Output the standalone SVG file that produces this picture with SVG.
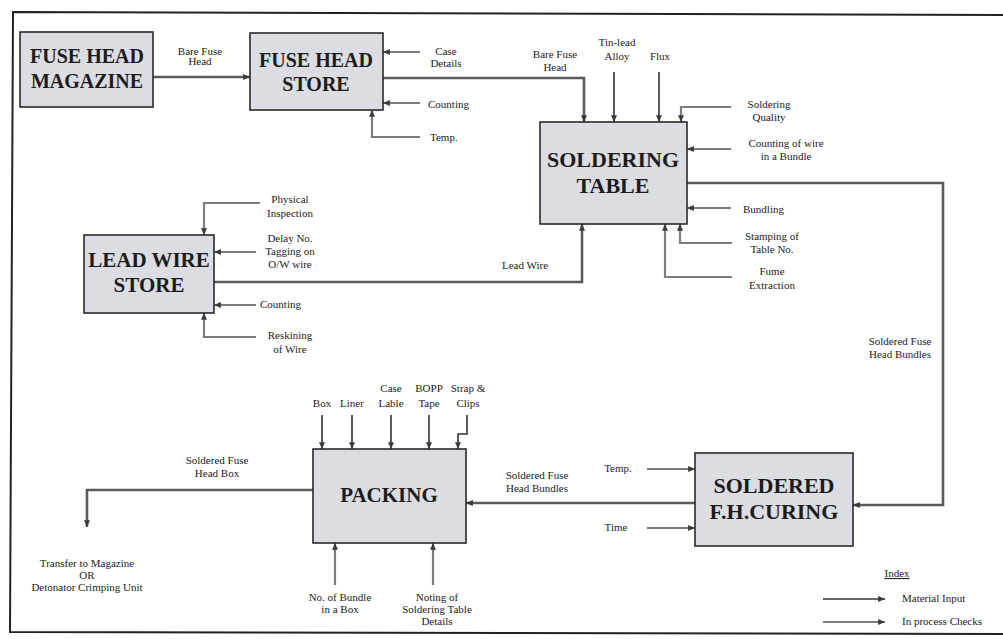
<svg xmlns="http://www.w3.org/2000/svg" width="1003" height="639" viewBox="0 0 1003 639">
<style>
.node rect{fill:#dcdde2;stroke:#2a2a2a;stroke-width:1.6}
.nt{font-family:"Liberation Serif","Times New Roman",serif;font-weight:bold;fill:#1c1c1c;text-anchor:middle}
.lb{font-family:"Liberation Serif","Times New Roman",serif;font-size:11px;fill:#222;text-anchor:middle}
.ls{text-anchor:start}
.flow{fill:none;stroke:#5a5a5a;stroke-width:2.6;marker-end:url(#ah)}
.mat{fill:none;stroke:#333;stroke-width:1.6;marker-end:url(#ah)}
.chk{fill:none;stroke:#7e7e7e;stroke-width:2.2;marker-end:url(#ah)}
.fr{fill:none;stroke:#222;stroke-width:2}
</style>
<defs>
<marker id="ah" viewBox="0 0 8 7" refX="8" refY="3.5" markerWidth="7" markerHeight="6" markerUnits="userSpaceOnUse" orient="auto">
<path d="M0,0 L8,3.5 L0,7 z" fill="#3a3a3a"/>
</marker>
</defs>
<rect width="1003" height="639" fill="#ffffff"/>
<path class="fr" d="M1003,15 L13,12 L10,632 L1003,634"/>

<g id="connectors">
<path class="flow" d="M153,77 H250"/>
<path class="chk" d="M420,52 H383"/>
<path class="chk" d="M420,103 H383"/>
<path class="chk" d="M420,137 H372 V110"/>
<path class="flow" d="M383,78 H584 V122"/>
<path class="mat" d="M614,72 V122"/>
<path class="mat" d="M659,72 V122"/>
<path class="chk" d="M731,107 H681 V122"/>
<path class="chk" d="M731,149 H687"/>
<path class="flow" d="M687,183 H943 V505 H853"/>
<path class="chk" d="M731,208 H687"/>
<path class="chk" d="M732,243 H680 V224"/>
<path class="chk" d="M732,277 H665 V224"/>
<path class="flow" d="M214,282 H582 V224"/>
<path class="chk" d="M260,203 H204 V235"/>
<path class="chk" d="M256,252 H214"/>
<path class="chk" d="M256,305 H214"/>
<path class="chk" d="M256,337 H204 V313"/>
<path class="mat" d="M322,415 V449"/>
<path class="mat" d="M352,415 V449"/>
<path class="mat" d="M391,415 V449"/>
<path class="mat" d="M429,415 V449"/>
<path class="mat" d="M467,415 V434 H458 V449"/>
<path class="flow" d="M313,490 H87 V527"/>
<path class="chk" d="M335,585 V543"/>
<path class="chk" d="M433,585 V543"/>
<path class="chk" d="M647,469 H695"/>
<path class="chk" d="M647,528 H695"/>
<path class="flow" d="M695,503 H466"/>
<path class="mat" d="M823,599 H885"/>
<path class="chk" d="M823,622 H885"/>
</g>

<g id="fuse-head-magazine" class="node">
<rect x="20" y="32" width="133" height="75"/>
<text class="nt" font-size="20" x="87" y="63">FUSE HEAD</text>
<text class="nt" font-size="20" x="87" y="88">MAGAZINE</text>
</g>
<g id="fuse-head-store" class="node">
<rect x="250" y="33" width="133" height="77"/>
<text class="nt" font-size="20" x="316" y="67">FUSE HEAD</text>
<text class="nt" font-size="20" x="316" y="91">STORE</text>
</g>
<g id="soldering-table" class="node">
<rect x="540" y="122" width="147" height="102"/>
<text class="nt" font-size="22" x="613" y="167">SOLDERING</text>
<text class="nt" font-size="22" x="613" y="193">TABLE</text>
</g>
<g id="lead-wire-store" class="node">
<rect x="84" y="235" width="130" height="78"/>
<text class="nt" font-size="21" x="149" y="267">LEAD WIRE</text>
<text class="nt" font-size="21" x="149" y="292">STORE</text>
</g>
<g id="packing" class="node">
<rect x="313" y="449" width="153" height="94"/>
<text class="nt" font-size="21" x="389" y="502">PACKING</text>
</g>
<g id="soldered-fh-curing" class="node">
<rect x="695" y="453" width="158" height="93"/>
<text class="nt" font-size="22" x="774" y="493">SOLDERED</text>
<text class="nt" font-size="22" x="774" y="519">F.H.CURING</text>
</g>

<g id="labels">
<text class="lb" x="200" y="55">Bare Fuse</text>
<text class="lb" x="200" y="65">Head</text>
<text class="lb" x="446" y="55">Case</text>
<text class="lb" x="446" y="67">Details</text>
<text class="lb ls" x="428" y="108">Counting</text>
<text class="lb ls" x="430" y="141">Temp.</text>
<text class="lb" x="555" y="58">Bare Fuse</text>
<text class="lb" x="555" y="71">Head</text>
<text class="lb" x="617" y="46">Tin-lead</text>
<text class="lb" x="617" y="60">Alloy</text>
<text class="lb" x="660" y="60">Flux</text>
<text class="lb" x="769" y="108">Soldering</text>
<text class="lb" x="769" y="121">Quality</text>
<text class="lb" x="786" y="147">Counting of wire</text>
<text class="lb" x="786" y="160">in a Bundle</text>
<text class="lb ls" x="743" y="213">Bundling</text>
<text class="lb" x="772" y="240">Stamping of</text>
<text class="lb" x="772" y="253">Table No.</text>
<text class="lb" x="772" y="275">Fume</text>
<text class="lb" x="772" y="289">Extraction</text>
<text class="lb" x="525" y="269">Lead Wire</text>
<text class="lb" x="290" y="203">Physical</text>
<text class="lb" x="290" y="217">Inspection</text>
<text class="lb" x="290" y="242">Delay No.</text>
<text class="lb" x="290" y="255">Tagging on</text>
<text class="lb" x="290" y="268">O/W wire</text>
<text class="lb ls" x="260" y="308">Counting</text>
<text class="lb" x="290" y="339">Reskining</text>
<text class="lb" x="290" y="353">of Wire</text>
<text class="lb" x="900" y="345">Soldered Fuse</text>
<text class="lb" x="900" y="358">Head Bundles</text>
<text class="lb" x="322" y="407">Box</text>
<text class="lb" x="352" y="407">Liner</text>
<text class="lb" x="391" y="392">Case</text>
<text class="lb" x="391" y="407">Lable</text>
<text class="lb" x="429" y="392">BOPP</text>
<text class="lb" x="429" y="407">Tape</text>
<text class="lb" x="468" y="392">Strap &amp;</text>
<text class="lb" x="468" y="407">Clips</text>
<text class="lb" x="217" y="464">Soldered Fuse</text>
<text class="lb" x="217" y="477">Head Box</text>
<text class="lb" x="87" y="567">Transfer to Magazine</text>
<text class="lb" x="87" y="579">OR</text>
<text class="lb" x="87" y="591">Detonator Crimping Unit</text>
<text class="lb" x="340" y="601">No. of Bundle</text>
<text class="lb" x="340" y="613">in a Box</text>
<text class="lb" x="437" y="601">Noting of</text>
<text class="lb" x="437" y="613">Soldering Table</text>
<text class="lb" x="437" y="625">Details</text>
<text class="lb" x="618" y="472">Temp.</text>
<text class="lb" x="616" y="531">Time</text>
<text class="lb" x="537" y="479">Soldered Fuse</text>
<text class="lb" x="537" y="492">Head Bundles</text>
<text class="lb" x="897" y="577" text-decoration="underline">Index</text>
<text class="lb ls" x="902" y="602">Material Input</text>
<text class="lb ls" x="902" y="625">In process Checks</text>
</g>
</svg>
